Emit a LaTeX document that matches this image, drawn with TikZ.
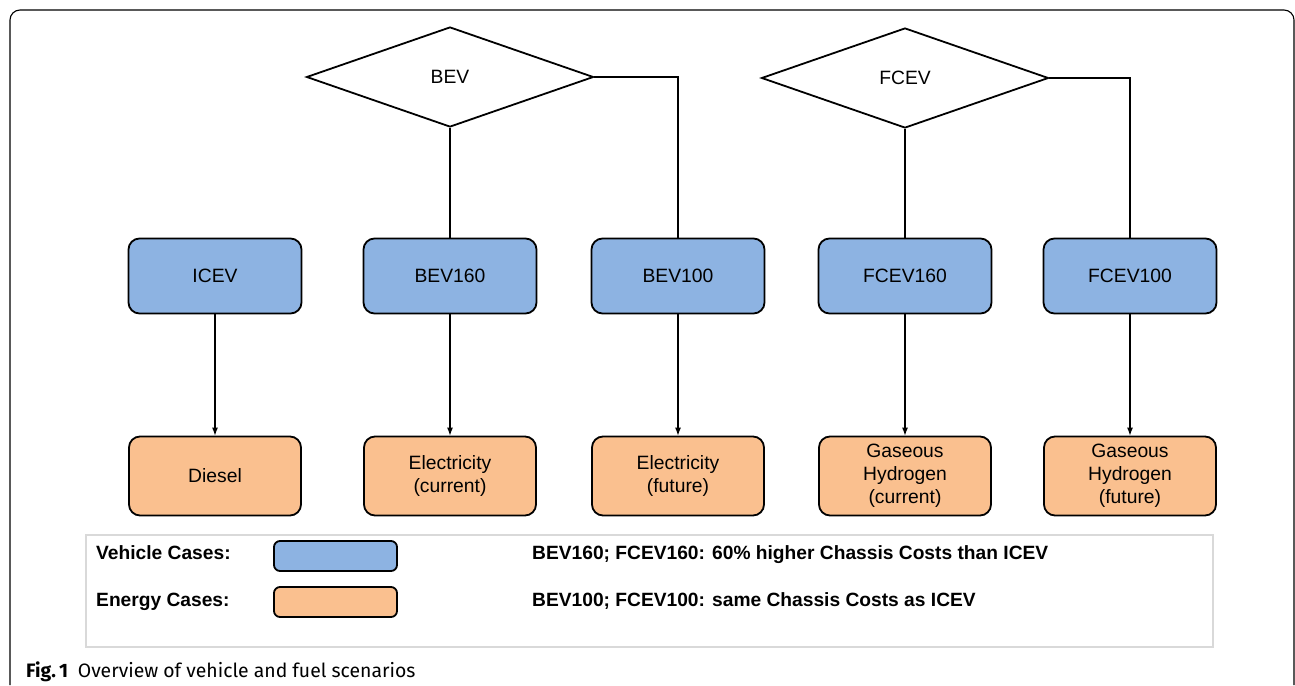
\documentclass[tikz,border=0pt]{standalone}
\usepackage{fontspec}
\setmainfont{Liberation Sans}
\newfontfamily\capfont{Fira Sans}
\usepackage{tikz}
\usetikzlibrary{arrows.meta, positioning, shapes.geometric}

\definecolor{vblue}{HTML}{8DB3E2}
\definecolor{eorange}{HTML}{FAC08F}
\definecolor{legline}{gray}{0.85}

\newcommand{\boxfont}{\fontsize{19.3}{23}\selectfont}

\tikzset{
	casebox/.style={draw, line width=1.8pt, rounded corners=11pt, inner sep=0pt, align=center, font=\boxfont},
	vehicle/.style={casebox, fill=vblue, minimum width=173pt, minimum height=75pt},
	energy/.style={casebox, fill=eorange, minimum width=172pt, minimum height=79pt},
	choice/.style={diamond, draw, line width=1.8pt, inner sep=0pt, minimum width=287pt, minimum height=100pt, font=\boxfont},
	conn/.style={line width=1.1pt},
	legtext/.style={anchor=base west, inner sep=0pt, font=\fontsize{19.2}{22}\selectfont\bfseries},
}

\begin{document}
\begin{tikzpicture}[x=1pt, y=-1pt]

\useasboundingbox (0,0) rectangle (1295,685);

\draw[line width=1.1pt, rounded corners=10pt] (10,685) -- (10,10) -- (1294,10) -- (1294,685); % frame

\def \yv{276}
\def \ye{476}

\node[choice] (bev) at (450, 77) {BEV};
\node[choice] (fcev) at (905, 78) {FCEV};

\foreach \v/\e/\x/\vt/\et in {
	icev/diesel/215/ICEV/Diesel,
	bevA/elcur/450/BEV160/{Electricity\\(current)},
	bevB/elfut/678/BEV100/{Electricity\\(future)},
	fcevA/hycur/905/FCEV160/{Gaseous\\Hydrogen\\(current)},
	fcevB/hyfut/1130/FCEV100/{Gaseous\\Hydrogen\\(future)}} {
	\node[vehicle] (\v) at (\x, \yv) {\vt};
	\node[energy] (\e) at (\x, \ye) {\et};
	\draw[conn, -{Latex[length=8pt, width=6pt]}] (\v) -- (\e); % vehicle -> fuel
}

\draw[conn] (bev.south) -- (bevA.north);
\draw[conn] (bev.east) -| (bevB.north);
\draw[conn] (fcev.south) -- (fcevA.north);
\draw[conn] (fcev.east) -| (fcevB.north);

% legend
\node[draw=legline, line width=1.2pt, minimum width=1127pt, minimum height=112pt, inner sep=0pt] (legend) at (649.5, 591) {};
\node[casebox, fill=vblue, rounded corners=6pt, minimum width=123pt, minimum height=30pt] (keyv) at (335.5, 556) {};
\node[casebox, fill=eorange, rounded corners=6pt, minimum width=123pt, minimum height=30pt] (keye) at (335.5, 602) {};
\node[legtext] (vlab) at (96, 559) {Vehicle Cases:};
\node[legtext] (elab) at (96, 606) {Energy Cases:};
\node[legtext] (vnote) at (532, 559) {BEV160; FCEV160: 60\% higher Chassis Costs than ICEV};
\node[legtext] (enote) at (532, 606) {BEV100; FCEV100: same Chassis Costs as ICEV};

\node[anchor=base west, inner sep=0pt, font=\capfont\fontsize{19.4}{23}\selectfont] (caption) at (26, 677) {\textbf{Fig.\,1}\hspace{0.5em}Overview of vehicle and fuel scenarios};

\end{tikzpicture}
\end{document}
